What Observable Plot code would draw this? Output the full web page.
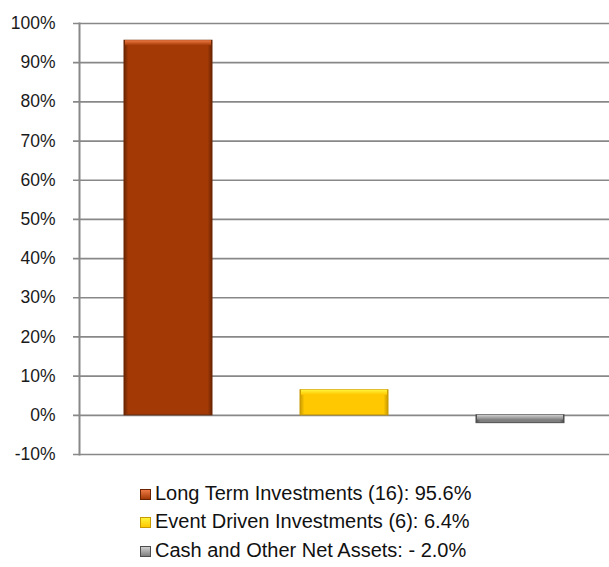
<!DOCTYPE html>
<html><head><meta charset="utf-8">
<script src="https://cdn.jsdelivr.net/npm/d3@7"></script>
<script src="https://cdn.jsdelivr.net/npm/@observablehq/plot@0.6"></script>
<style>
body{margin:0;background:#fff;font-family:"Liberation Sans",Arial,Helvetica,sans-serif;}
#legend{padding-left:140px;padding-top:9px;}
.item{font-size:20px;line-height:28.4px;height:28.4px;color:#111;white-space:nowrap;}
.sw{display:inline-block;width:9px;height:9px;margin-right:4px;border:1px solid;vertical-align:0px;box-sizing:content-box;}
</style></head><body><div id="chart"></div><div id="legend"></div>
<script>
const categories = ["Long Term Investments (16)", "Event Driven Investments (6)", "Cash and Other Net Assets"];
const values = [95.6, 6.4, -2.0];
const legendLabels = ["Long Term Investments (16): 95.6%", "Event Driven Investments (6): 6.4%", "Cash and Other Net Assets: - 2.0%"];
const yTicks = [-10, 0, 10, 20, 30, 40, 50, 60, 70, 80, 90, 100];
const baseColors = ["#a33a06", "#ffc800", "#7f7f7f"];
const edgeColors = ["#6a2402", "#c99a00", "#4d4d4d"];
const lightColors = ["#f07a45", "#fff43a", "#d0d0d0"];
const ids = ["g0", "g1", "g2"];

const data = categories.map((c, i) => ({cat: c, value: values[i], top: Math.max(0, values[i]), i}));

const plot = Plot.plot({
  width: 609, height: 470,
  marginTop: 23, marginBottom: 16, marginLeft: 79, marginRight: 0,
  style: {fontFamily: '"Liberation Sans", Arial, sans-serif', fontSize: "17.5px", color: "#222", background: "#fff", overflow: "visible"},
  x: {domain: categories, paddingInner: 0.5, paddingOuter: 0.25, axis: null},
  y: {domain: [-10, 100], ticks: yTicks, tickFormat: d => d + "%", label: null},
  marks: [
    Plot.ruleY(yTicks, {stroke: "#888888", strokeWidth: 1.7, insetLeft: -6}),
    Plot.axisY(yTicks, {tickSize: 0, tickPadding: 24, tickFormat: d => d + "%", label: null, fontSize: 17.5, fill: "#1a1a1a"}),
    Plot.barY(data, {x: "cat", y: "value", fill: d => `url(#h${d.i})`, stroke: d => edgeColors[d.i], strokeWidth: 1}),
    Plot.barY(data, {x: "cat", y1: "top", y2: "top", insetBottom: -5, insetLeft: 1, insetRight: 1, fill: d => `url(#v${d.i})`}),
    Plot.frame({anchor: "left", stroke: "#888888", strokeWidth: 2})
  ]
});

// gradient definitions
const ns = "http://www.w3.org/2000/svg";
const defs = document.createElementNS(ns, "defs");
baseColors.forEach((b, i) => {
  const h = document.createElementNS(ns, "linearGradient");
  h.setAttribute("id", "h" + i);
  h.setAttribute("x1", "0"); h.setAttribute("x2", "1"); h.setAttribute("y1", "0"); h.setAttribute("y2", "0");
  [[0, edgeColors[i]], [0.05, b], [0.95, b], [1, edgeColors[i]]].forEach(([o, c]) => {
    const s = document.createElementNS(ns, "stop");
    s.setAttribute("offset", o); s.setAttribute("stop-color", c); h.appendChild(s);
  });
  defs.appendChild(h);
  const v = document.createElementNS(ns, "linearGradient");
  v.setAttribute("id", "v" + i);
  v.setAttribute("x1", "0"); v.setAttribute("x2", "0"); v.setAttribute("y1", "0"); v.setAttribute("y2", "1");
  [[0, lightColors[i]], [1, b]].forEach(([o, c]) => {
    const s = document.createElementNS(ns, "stop");
    s.setAttribute("offset", o); s.setAttribute("stop-color", c); v.appendChild(s);
  });
  defs.appendChild(v);
});
plot.insertBefore(defs, plot.firstChild);
document.getElementById("chart").appendChild(plot);

const legend = document.getElementById("legend");
legendLabels.forEach((t, i) => {
  const div = document.createElement("div");
  div.className = "item";
  const sw = document.createElement("span");
  sw.className = "sw";
  sw.style.background = `linear-gradient(${lightColors[i]}, ${baseColors[i]})`;
  sw.style.borderColor = edgeColors[i];
  div.appendChild(sw);
  div.appendChild(document.createTextNode(t));
  legend.appendChild(div);
});
</script></body></html>
